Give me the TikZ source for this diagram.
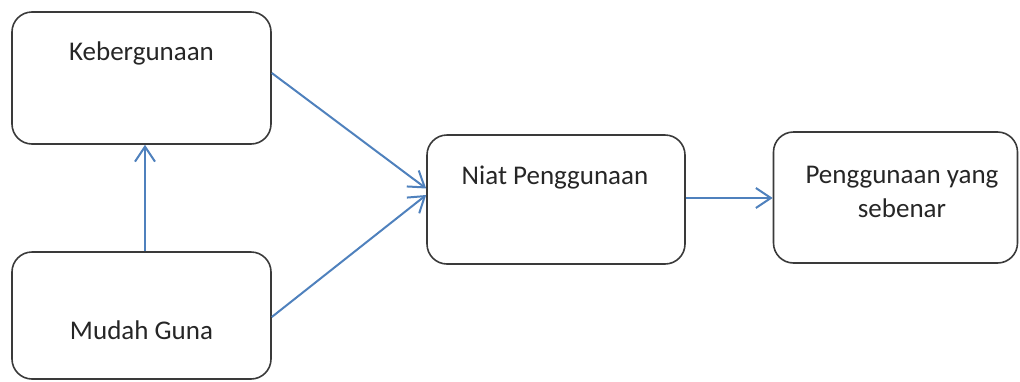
\documentclass[tikz,border=0pt]{standalone}
\usepackage{fontspec}
\setmainfont{Carlito}
\usetikzlibrary{arrows.meta}
\definecolor{arrowblue}{HTML}{4F81BD}
\definecolor{boxline}{HTML}{3A3A3A}
\tikzset{
  box/.style={draw=boxline, line width=1.6pt, rounded corners=20pt, inner sep=0pt},
  lbl/.style={font=\fontsize{27}{34}\selectfont, text=black!85, align=center, inner sep=0pt},
  conn/.style={draw=arrowblue, line width=2pt, -{Straight Barb[length=15pt,width=20pt,line width=2pt]}}
}
\begin{document}
\begin{tikzpicture}[x=1pt,y=-1pt]
\useasboundingbox (0,0) rectangle (1020,381);
\node[box, minimum width=259pt, minimum height=132pt] (keb) at (141.5,78) {};
\node[box, minimum width=259pt, minimum height=127pt] (mudah) at (141.5,315.5) {};
\node[box, minimum width=258pt, minimum height=129pt] (niat) at (556,199.5) {};
\node[box, minimum width=244pt, minimum height=131pt] (peng) at (895.5,197.5) {};
\node[lbl] (tkeb) at (141.5,53) {Kebergunaan};
\node[lbl] (tmudah) at (141.5,330) {Mudah Guna};
\node[lbl] (tniat) at (555,178) {Niat Penggunaan};
\node[lbl] (tpeng) at (902,191.5) {Penggunaan yang\\sebenar};
\draw[conn] ([yshift=5pt]keb.east) -- ([yshift=11pt]niat.west);
\draw[conn] ([yshift=-1.5pt]mudah.east) -- ([yshift=4.5pt]niat.west);
\draw[conn] ([xshift=3.5pt]mudah.north) -- ([xshift=3.5pt]keb.south);
\draw[conn] ([yshift=1.5pt]niat.east) -- ([yshift=1.5pt]niat.east -| peng.west);
\end{tikzpicture}
\end{document}
